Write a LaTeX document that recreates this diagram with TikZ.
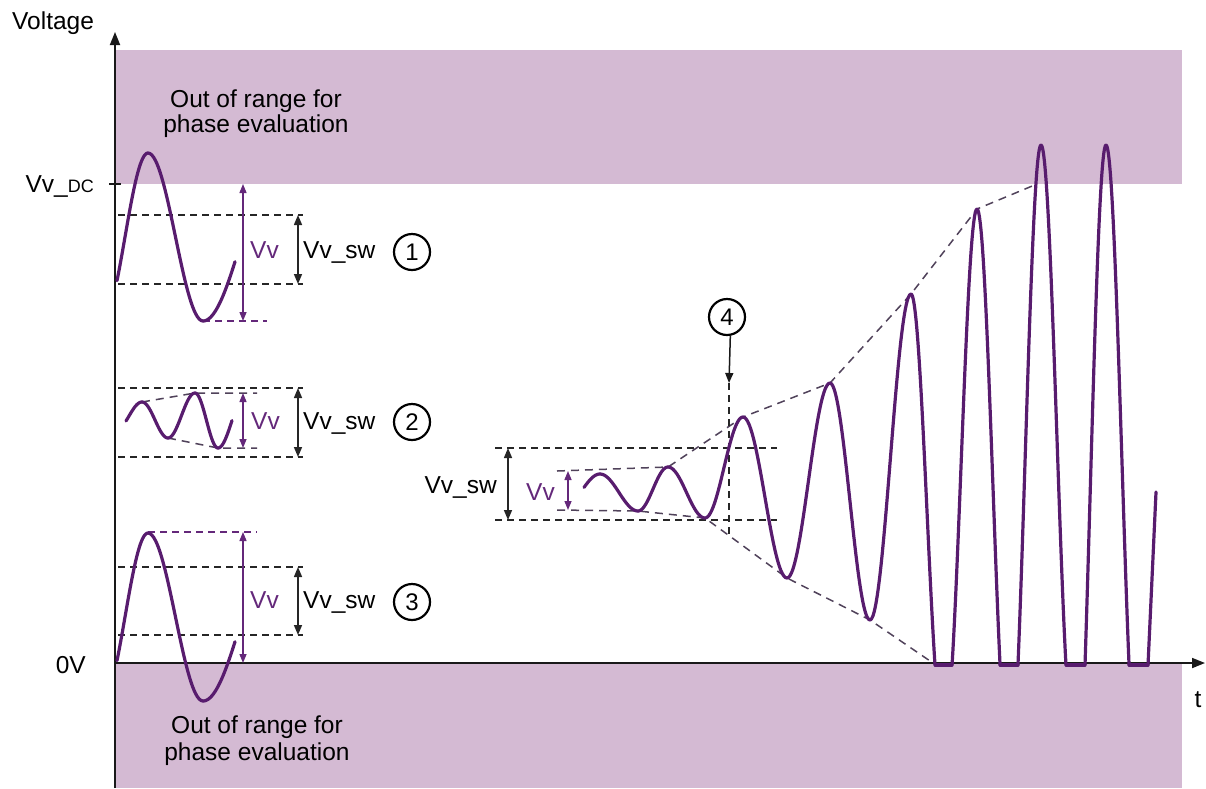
\documentclass[tikz,border=0pt]{standalone}
\usepackage{fontspec}
\setmainfont{Liberation Sans}
\usetikzlibrary{arrows.meta}
\definecolor{bandc}{RGB}{212,186,211}
\definecolor{wavec}{RGB}{88,28,110}
\definecolor{envc}{RGB}{80,66,90}
\definecolor{vvc}{RGB}{100,40,122}
\newcommand\vswtxt{Vv\_sw}
\begin{document}
\begin{tikzpicture}[x=1pt,y=-1pt,
  wave/.style={wavec, line width=3.2pt, line cap=round, line join=round},
  axisline/.style={black!90, line width=1.8pt},
  blackdash/.style={black!85, line width=1.5pt, dash pattern=on 7pt off 5pt},
  envdash/.style={envc, line width=1.5pt, dash pattern=on 8pt off 6pt},
  vvdash/.style={vvc, line width=1.5pt, dash pattern=on 7pt off 5pt},
  swarrow/.style={black!85, line width=1.5pt, {Triangle[length=10pt,width=8pt]}-{Triangle[length=10pt,width=8pt]}},
  vvarrow/.style={vvc, line width=1.4pt, {Triangle[length=9pt,width=7pt]}-{Triangle[length=9pt,width=7pt]}},
  lbl/.style={font=\fontsize{24.5}{26}\selectfont, inner sep=0pt},
  num/.style={circle, draw, line width=2.2pt, minimum size=36pt, inner sep=0pt, font=\fontsize{24}{24}\selectfont}
]
\useasboundingbox (0,0) rectangle (1206,788);
% bands
\fill[bandc] (115,50) rectangle (1182,184);
\fill[bandc] (115,663) rectangle (1182,788);
% band texts
\node[lbl, anchor=base] (topa) at (256,107) {Out of range for};
\node[lbl, anchor=base] (topb) at (256,132) {phase evaluation};
\node[lbl, anchor=base] (bota) at (257,733) {Out of range for};
\node[lbl, anchor=base] (botb) at (257,760) {phase evaluation};
% axes
\coordinate (ybot) at (115,788);
\coordinate (ytop) at (115,32);
\coordinate (O) at (115,663);
\coordinate (xend) at (1205,663);
\draw[axisline, -{Triangle[length=13pt,width=10pt]}] (ybot) -- (ytop);
\draw[axisline, -{Triangle[length=13pt,width=10pt]}] (O) -- (xend);
\coordinate (tka) at (109,184);
\coordinate (tkb) at (121,184);
\draw[axisline] (tka) -- (tkb);
\node[lbl, anchor=base west] (volt) at (12,29) {Voltage};
\node[lbl, anchor=base east] (vdc) at (94,192) {Vv\_{\fontsize{18}{18}\selectfont DC}};
\node[lbl, anchor=base east] (zero) at (86,673) {0V};
\node[lbl, anchor=base] (tlab) at (1198,707) {t};
% black dashed reference lines
\foreach \ya in {215,284,388,457,567,635}
  \draw[blackdash] (118,\ya) -- (303,\ya);
\foreach \ya in {448,520}
  \draw[blackdash] (495,\ya) -- (777,\ya);
% purple short dashed lines
\draw[vvdash] (203,321) -- (267,321);
\draw[vvdash] (148,532) -- (257,532);
\draw[envdash] (142,402) -- (195,393) -- (257,393);
\draw[envdash] (168,438) -- (218,448) -- (257,448);
% envelopes of the growing wave
\draw[envdash] (557,471) -- (668,467) -- (743,417) -- (830,383) -- (911,294) -- (977,209) -- (1037,184);
\draw[envdash] (557,510) -- (638,511) -- (705,518) -- (787,578) -- (870,620) -- (933,663);
% marker 4
\node[num] (c4) at (727,317) {4};
\coordinate (a4) at (729,383);
\coordinate (d4) at (729,537);
\draw[black!90, line width=1.5pt, -{Triangle[length=10pt,width=8pt]}] (c4.-80) -- (a4);
\draw[blackdash] (a4) -- (d4);
% waves (half waves between extremes)
\foreach \xa/\ya/\xb/\yb/\ta/\tb in {
 102/321/148/153/0.326/1, 148/153/203/321/0/1, 203/321/282/153/0/0.405,
 102/701/148/533/0.326/1, 148/533/203/701/0/1, 203/701/282/533/0/0.405,
 116/430/142/402/0.385/1, 142/402/168/438/0/1, 168/438/195/393/0/1, 195/393/218/448/0/1, 218/448/246/393/0/0.5,
 565/505/600/474/0.543/1, 600/474/638/511/0/1, 638/511/668/467/0/1, 668/467/705/518/0/1,
 705/518/743/417/0/1, 743/417/787/578/0/1, 787/578/830/383/0/1, 830/383/870/620/0/1, 870/620/911/294/0/1}
  \draw[wave] plot[domain=\ta:\tb, samples=30, smooth] ({\xa+(\xb-\xa)*\x},{\ya+(\yb-\ya)*(1-cos(180*\x))/2});
% clipped spikes
\foreach \xp/\yp/\s/\u in {911/294/1/0.75, 977/209/-1/0.78, 977/209/1/0.72, 1041/145/-1/0.72, 1041/145/1/0.78, 1106/145/-1/0.656, 1106/145/1/0.72}
  \draw[wave] plot[domain=0:\u, samples=30, smooth] ({\xp+(\s)*32*\x},{\yp+(665-\yp)*(1-cos(180*\x))/(1-cos(180*\u))});
\foreach \xa/\xb in {935/952, 1000/1018, 1066/1085, 1129/1148}
  \draw[wave] (\xa,665) -- (\xb,665);
\coordinate (wend0) at (1148,665);
\coordinate (wend) at (1156,492);
\draw[wave] (wend0) -- (wend);
% dimension arrows row 1
\coordinate (r1vt) at (243,184); \coordinate (r1vb) at (243,321);
\coordinate (r1st) at (298,215); \coordinate (r1sb) at (298,284);
\draw[vvarrow] (r1vt) -- (r1vb);
\draw[swarrow] (r1st) -- (r1sb);
\node[lbl, anchor=base west, text=vvc] (vv1) at (250,258) {Vv};
\node[lbl, anchor=base west] (sw1) at (303,258) {\vswtxt};
\node[num] (c1) at (412,252) {1};
% row 2
\coordinate (r2vt) at (243,393); \coordinate (r2vb) at (243,448);
\coordinate (r2st) at (298,388); \coordinate (r2sb) at (298,457);
\draw[vvarrow] (r2vt) -- (r2vb);
\draw[swarrow] (r2st) -- (r2sb);
\node[lbl, anchor=base west, text=vvc] (vv2) at (251,429) {Vv};
\node[lbl, anchor=base west] (sw2) at (303,429) {\vswtxt};
\node[num] (c2) at (412,422) {2};
% row 3
\coordinate (r3vt) at (243,532); \coordinate (r3vb) at (243,663);
\coordinate (r3st) at (298,567); \coordinate (r3sb) at (298,635);
\draw[vvarrow] (r3vt) -- (r3vb);
\draw[swarrow] (r3st) -- (r3sb);
\node[lbl, anchor=base west, text=vvc] (vv3) at (250,608) {Vv};
\node[lbl, anchor=base west] (sw3) at (303,608) {\vswtxt};
\node[num] (c3) at (412,602) {3};
% center
\coordinate (r4st) at (508,448); \coordinate (r4sb) at (508,520);
\coordinate (r4vt) at (568,471); \coordinate (r4vb) at (568,510);
\draw[swarrow] (r4st) -- (r4sb);
\draw[vvarrow] (r4vt) -- (r4vb);
\node[lbl, anchor=base east] (sw4) at (497,493) {\vswtxt};
\node[lbl, anchor=base west, text=vvc] (vv4) at (526,500) {Vv};
\end{tikzpicture}
\end{document}
